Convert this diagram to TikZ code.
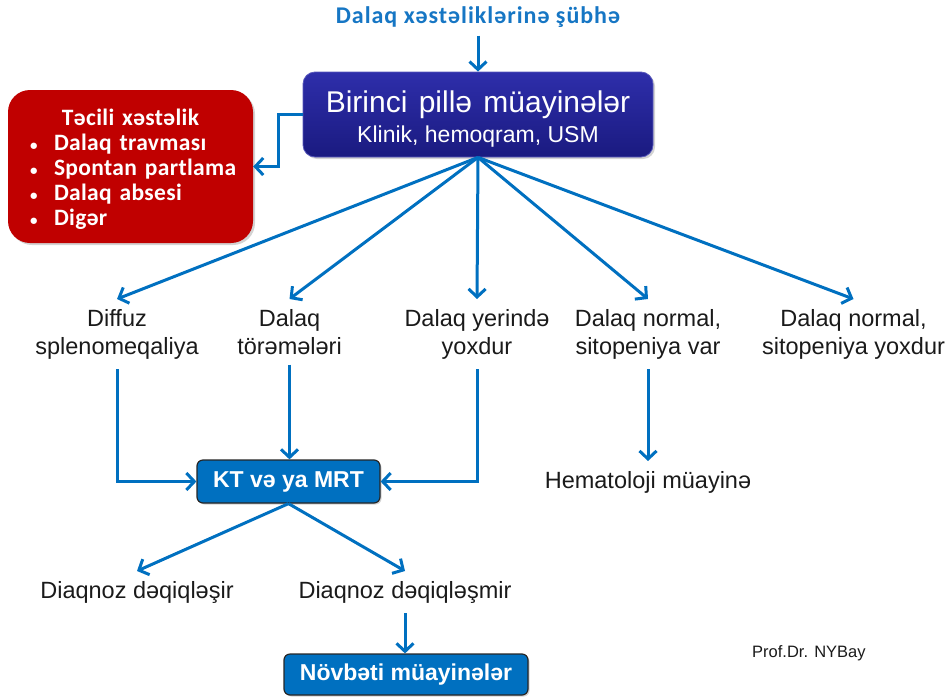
\documentclass[tikz,border=0pt]{standalone}
\usepackage{fontspec}
\setmainfont{Liberation Sans}
\newfontfamily\calfont[LetterSpace=1.5]{Carlito}
\newfontfamily\titlefont[LetterSpace=4]{Carlito}
\usetikzlibrary{arrows.meta,shadows}
\definecolor{arrblue}{RGB}{0,112,192}
\definecolor{titleblue}{RGB}{22,118,196}
\definecolor{boxblue}{RGB}{0,112,192}
\definecolor{emred}{RGB}{192,0,0}
\definecolor{txtgray}{RGB}{26,26,26}
\definecolor{maintop}{RGB}{46,46,170}
\definecolor{mainbot}{RGB}{26,26,128}
\newcommand{\blt}[1]{\mbox{\makebox[26pt][l]{\hspace{2pt}{\fontsize{15}{15}\selectfont•}}#1}}
\begin{document}
\begin{tikzpicture}[x=1pt,y=-1pt,
  arr/.style={draw=arrblue,line width=3pt,-{Straight Barb[length=8pt,width=17pt]}},
  lbl/.style={inner xsep=0pt,inner ysep=10pt,align=center,anchor=north,
    font=\fontsize{23.5}{28}\selectfont,text=txtgray},
  bluebox/.style={fill=boxblue,draw=black!85,line width=1.2pt,rounded corners=6pt,
    text=white,inner sep=0pt,font=\bfseries\fontsize{23}{27}\selectfont,
    drop shadow={opacity=0.35,shadow xshift=1.5pt,shadow yshift=-1.5pt}},
  mainbox/.style={top color=maintop,bottom color=mainbot,draw=maintop!80!white,line width=0.8pt,
    rounded corners=12pt,text=white,inner sep=0pt,align=center,
    font=\fontsize{23}{30}\selectfont,
    drop shadow={opacity=0.35,shadow xshift=2pt,shadow yshift=-2pt}},
  emergbox/.style={fill=emred,draw=none,rounded corners=22pt,text=white,
    inner xsep=20pt,inner ysep=0pt,text width=205pt,align=left,
    font=\calfont\bfseries\fontsize{23.5}{25}\selectfont,
    drop shadow={opacity=0.35,shadow xshift=2pt,shadow yshift=-2pt}}
]
\useasboundingbox (0,0) rectangle (952,699);

% title
\node[font=\titlefont\bfseries\fontsize{24}{26}\selectfont,text=titleblue,
  inner xsep=0pt,inner ysep=8pt] (title) at (478,17) {Dalaq xəstəliklərinə şübhə};

% main box
\node[mainbox,minimum width=350pt,minimum height=85pt] (main) at (478,114.5)
  {{\fontsize{30}{30}\selectfont\rule{0pt}{30pt}Birinci\hspace{3pt} pillə\hspace{3pt} müayinələr}\\Klinik, hemoqram, USM};

% emergency box
\node[emergbox,minimum height=153pt] (emerg) at (130.5,166.5)
  {\makebox[205pt][c]{\rule{0pt}{22pt}Təcili xəstəlik}\\
   \blt{Dalaq travması}\\
   \blt{Spontan partlama}\\
   \blt{Dalaq absesi}\\
   \blt{Digər}};

% second level labels
\node[lbl] (diffuz) at (117,299) {Diffuz\\splenomeqaliya};
\node[lbl] (torem) at (289.5,299) {Dalaq\\törəmələri};
\node[lbl] (yerinde) at (477,299) {Dalaq yerində\\yoxdur};
\node[lbl] (normvar) at (648,299) {Dalaq normal,\\sitopeniya var};
\node[lbl] (normyox) at (853.5,299) {Dalaq normal,\\sitopeniya yoxdur};

% third level
\node[bluebox,minimum width=183pt,minimum height=43pt] (kt) at (288.5,481.5) {KT və ya MRT};
\node[lbl] (hemat) at (648,461) {Hematoloji müayinə};

\node[lbl] (diag1) at (137,571) {Diaqnoz dəqiqləşir};
\node[lbl] (diag2) at (405,571) {Diaqnoz dəqiqləşmir};

\node[bluebox,minimum width=244pt,minimum height=41pt] (next) at (406,674.5) {Növbəti müayinələr};

\node[anchor=base west,inner sep=0pt,font=\fontsize{16.5}{20}\selectfont,text=txtgray]
  (prof) at (752,657) {Prof.Dr. NYBay};

% connectors
\draw[arr] (title.south) -- (title.south |- main.north);
\draw[arr] (main.west) -- ++(-24,0) |- (emerg.east);
\foreach \n in {diffuz,torem,yerinde,normvar,normyox}
  \draw[arr] (main.south) -- (\n.north);
\draw[arr] (diffuz.south) |- (kt.west);
\draw[arr] (torem.south) -- (torem.south |- kt.north);
\draw[arr] (yerinde.south) |- (kt.east);
\draw[arr] (normvar.south) -- (hemat.north);
\draw[arr] (kt.south) -- (diag1.north);
\draw[arr] (kt.south) -- (diag2.north);
\draw[arr] (diag2.south) -- (diag2.south |- next.north);
\end{tikzpicture}
\end{document}
